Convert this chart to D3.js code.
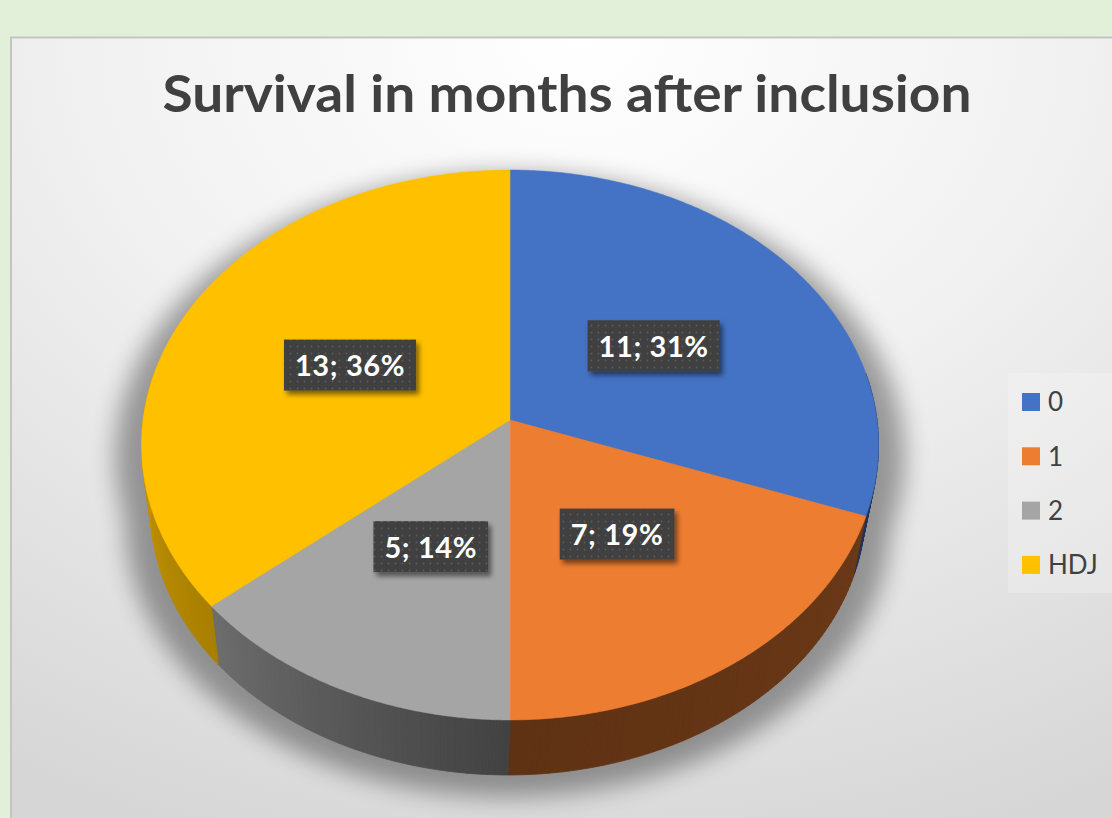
<!DOCTYPE html>
<html>
<head>
<meta charset="utf-8">
<script src="https://cdn.jsdelivr.net/npm/d3@7"></script>
<style>
  html, body { margin: 0; padding: 0; background: #e2efd9; }
  svg { display: block; }
</style>
</head>
<body>
<svg id="chart" width="1112" height="818"></svg>
<script>
// ---- data ----
const categories = ["0", "1", "2", "HDJ"];
const counts = [11, 7, 5, 13];
const colors = ["#4472c4", "#ed7d31", "#a5a5a5", "#ffc000"];
const titleText = "Survival in months after inclusion";

// ---- layout ----
const W = 1112, H = 818;
const cx = 510, cy = 420;        // projected centre of the top face
const RX = 367, RY = 272.7;      // horizontal / depth radii
const K = 0.0909;                // perspective strength
const vanish = [440, 2553];      // vanishing point for the lower rim
const shrink = 0.03;             // how much the lower rim pulls toward it
const labelRadius = 0.49;

const svg = d3.select("#chart");
const defs = svg.append("defs");

// perspective projection of a point on the pie disc (angle clockwise from 12 o'clock)
function topPt(a, r = 1) {
  const u = r * Math.sin(a), v = -r * Math.cos(a);
  const w = 1 - K * v;
  return [cx + RX * u / w, cy + RY * v / w];
}
function bottomPt(a, r = 1) {
  const p = topPt(a, r);
  return [p[0] + shrink * (vanish[0] - p[0]), p[1] + shrink * (vanish[1] - p[1])];
}
const deg = Math.PI / 180;
function arcPoints(fn, a0, a1, step = 0.5 * deg) {
  const n = Math.max(1, Math.ceil(Math.abs(a1 - a0) / step));
  return d3.range(n + 1).map(i => fn(a0 + (a1 - a0) * i / n));
}
const line = d3.line();

// ---- background ----
const bg = defs.append("radialGradient").attr("id", "panelGrad")
  .attr("gradientUnits", "userSpaceOnUse")
  .attr("cx", 580).attr("cy", 40).attr("r", 1000)
  .attr("gradientTransform", "translate(580,40) scale(1.1,0.85) translate(-580,-40)");
bg.append("stop").attr("offset", 0).attr("stop-color", "#ffffff");
bg.append("stop").attr("offset", 0.45).attr("stop-color", "#f1f1f1");
bg.append("stop").attr("offset", 1).attr("stop-color", "#d6d6d6");

svg.append("rect").attr("width", W).attr("height", H).attr("fill", "#e2efd9");
svg.append("rect")
  .attr("x", 11).attr("y", 37.5).attr("width", W).attr("height", H)
  .attr("fill", "url(#panelGrad)")
  .attr("stroke", "#c4c4c4").attr("stroke-width", 2);

// ---- title ----
svg.append("text")
  .attr("x", 567).attr("y", 112)
  .attr("text-anchor", "middle")
  .attr("font-family", "Lato, 'Open Sans', sans-serif")
  .attr("font-weight", 700)
  .attr("font-size", 52)
  .attr("fill", "#404040")
  .attr("textLength", 809)
  .attr("lengthAdjust", "spacingAndGlyphs")
  .text(titleText);

// ---- pie ----
const total = d3.sum(counts);
const pie = d3.pie().sort(null).value(d => d)(counts);

// soft ground shadow
const blur = defs.append("filter").attr("id", "groundBlur")
  .attr("x", "-20%").attr("y", "-20%").attr("width", "140%").attr("height", "140%");
blur.append("feGaussianBlur").attr("stdDeviation", 12);

const shadowG = svg.append("g")
  .attr("filter", "url(#groundBlur)")
  .attr("opacity", 0.36)
  .append("g")
  .attr("transform", `translate(510,470) scale(1.07,1.03) translate(-510,-458)`);
shadowG.append("path").attr("d", line(arcPoints(topPt, 0, 2 * Math.PI)) + "Z").attr("fill", "#000");
shadowG.append("path").attr("d", line(arcPoints(bottomPt, 0, 2 * Math.PI)) + "Z").attr("fill", "#000");
shadowG.append("path")
  .attr("d", line(arcPoints(topPt, 80 * deg, 280 * deg).concat(arcPoints(bottomPt, 280 * deg, 80 * deg))) + "Z")
  .attr("fill", "#000");

// side walls, shaded by direction (light from the left)
const shade = d3.scaleLinear().domain([90, 180, 230, 270]).range([0.46, 0.40, 0.66, 0.78]).clamp(true);
function shadeColor(c, f) {
  const r = d3.rgb(c);
  return d3.rgb(r.r * f, r.g * f, r.b * f).formatHex();
}
const sides = svg.append("g");
pie.forEach((s, i) => {
  const a0 = Math.max(s.startAngle, 80 * deg);
  const a1 = Math.min(s.endAngle, 280 * deg);
  if (a1 <= a0) return;
  const n = Math.ceil((a1 - a0) / deg);
  for (let j = 0; j < n; j++) {
    const b0 = a0 + (a1 - a0) * j / n, b1 = a0 + (a1 - a0) * (j + 1) / n;
    const col = shadeColor(colors[i], shade(((b0 + b1) / 2) / deg));
    const pts = [topPt(b0), topPt(b1), bottomPt(b1), bottomPt(b0)];
    sides.append("path").attr("d", line(pts) + "Z")
      .attr("fill", col).attr("stroke", col).attr("stroke-width", 0.8);
  }
});

// top faces
svg.append("g").selectAll("path")
  .data(pie)
  .join("path")
  .attr("d", d => line([[cx, cy]].concat(arcPoints(topPt, d.startAngle, d.endAngle))) + "Z")
  .attr("fill", (d, i) => colors[i])
  .attr("stroke", (d, i) => colors[i])
  .attr("stroke-width", 0.5);

// ---- data labels ----
const pat = defs.append("pattern").attr("id", "dots")
  .attr("patternUnits", "userSpaceOnUse").attr("width", 7).attr("height", 7);
pat.append("rect").attr("width", 7).attr("height", 7).attr("fill", "#404040");
pat.append("circle").attr("cx", 3.5).attr("cy", 3.5).attr("r", 0.9).attr("fill", "#5c5c5c");

const ds = defs.append("filter").attr("id", "boxShadow")
  .attr("x", "-20%").attr("y", "-30%").attr("width", "150%").attr("height", "170%");
ds.append("feDropShadow").attr("dx", 3).attr("dy", 4).attr("stdDeviation", 2.5)
  .attr("flood-color", "#000").attr("flood-opacity", 0.5);

const labels = svg.append("g");
pie.forEach((s, i) => {
  const mid = (s.startAngle + s.endAngle) / 2;
  const [lx, ly] = topPt(mid, labelRadius);
  const txt = `${counts[i]}; ${Math.round(counts[i] / total * 100)}%`;
  const g = labels.append("g");
  const rect = g.append("rect").attr("fill", "url(#dots)").attr("filter", "url(#boxShadow)");
  const t = g.append("text")
    .attr("x", lx).attr("y", ly + 1).attr("dy", "0.36em")
    .attr("text-anchor", "middle")
    .attr("font-family", "Lato, 'Open Sans', sans-serif")
    .attr("font-weight", 700)
    .attr("font-size", 29)
    .attr("letter-spacing", 0.6)
    .attr("fill", "#ffffff")
    .text(txt);
  const tw = t.node().getComputedTextLength();
  rect.attr("x", lx - tw / 2 - 11).attr("y", ly - 25)
    .attr("width", tw + 22).attr("height", 51);
});

// ---- legend ----
svg.append("rect").attr("x", 1008).attr("y", 373).attr("width", 110).attr("height", 220)
  .attr("fill", "#ffffff").attr("opacity", 0.22);
const legend = svg.append("g");
categories.forEach((c, i) => {
  const yc = 402 + i * 54.3;
  legend.append("rect").attr("x", 1022).attr("y", yc - 9).attr("width", 18).attr("height", 18)
    .attr("fill", colors[i]);
  legend.append("text").attr("x", 1048).attr("y", yc).attr("dy", "0.36em")
    .attr("font-family", "Lato, 'Open Sans', sans-serif")
    .attr("font-size", 26)
    .attr("fill", "#404040")
    .text(c);
});
</script>
</body>
</html>
